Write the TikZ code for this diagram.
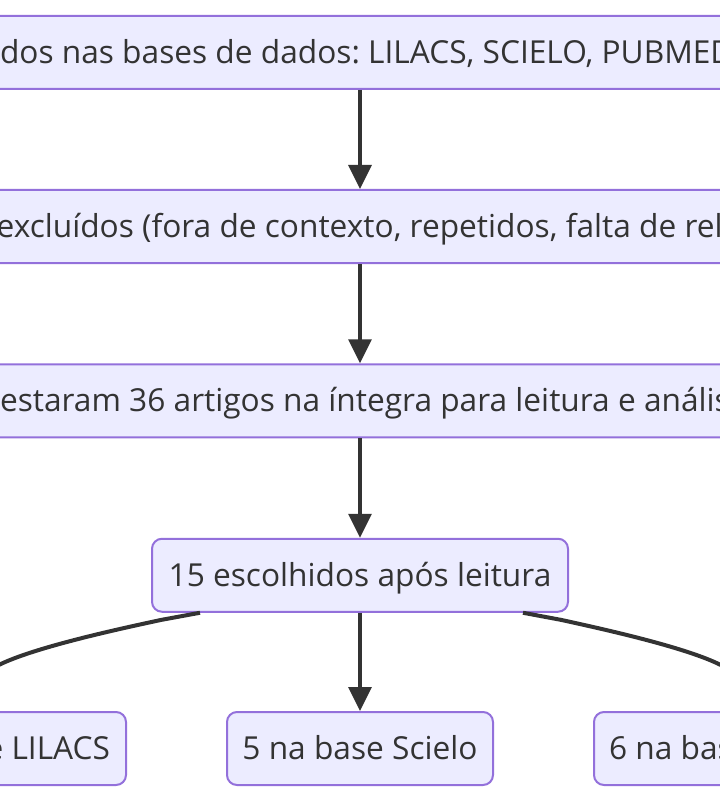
\documentclass[tikz,border=0pt]{standalone}
\usepackage{fontspec}
\setmainfont{Open Sans}
\frenchspacing
\usepackage{xcolor}
\usetikzlibrary{positioning, arrows.meta}
\definecolor{boxfill}{HTML}{ECECFF}
\definecolor{boxline}{HTML}{9370DB}
\definecolor{ink}{HTML}{333333}

\begin{document}
\begin{tikzpicture}[
    x=0.75pt, y=-0.75pt,
    stage/.style={rectangle, draw=boxline, fill=boxfill, line width=1.5pt, rounded corners=7.5pt, text=ink, font=\fontsize{23.75}{28}\selectfont, minimum height=54.75pt, inner ysep=0pt, text height=20pt, text depth=3.5pt},
    wide/.style={stage, inner xsep=45pt},
    base/.style={stage, inner xsep=12pt},
    arrow/.style={-{Triangle[length=18pt, width=17pt]}, draw=ink, line width=3pt}
]
\useasboundingbox (0,0) rectangle (720,802);
\clip (0,0) rectangle (720,802);

\node[wide] (busca) at (360,52.5) {\makebox[540pt][l]{dos nas bases de dados: LILACS, SCIELO, PUBMED}};
\node[wide] (triagem) at (360,226.5) {\makebox[540pt][l]{\hspace*{-2.5pt}excluídos (fora de contexto, repetidos, falta de rel}};
\node[wide] (leitura) at (360,400.75) {\makebox[540pt][l]{estaram 36 artigos na íntegra para leitura e anális}};
\node[stage, minimum width=312pt] (escolhidos) at (360,575.25) {15 escolhidos após leitura};
\node[stage, minimum width=199.5pt] (scielo) at (360,748.5) {5 na base Scielo};
\node[base] (lilacs) at (-33,748.5) {\makebox[214.5pt][r]{e LILACS}};
\node[base, inner xsep=11.25pt] (pubmed) at (752,748.5) {\makebox[214.5pt][l]{6 na bas}};

\draw[arrow] (busca) -- (triagem);
\draw[arrow] (triagem) -- (leitura);
\draw[arrow] (leitura) -- (escolhidos);
\draw[arrow] (escolhidos) -- (scielo);
\draw[arrow] ([xshift=-120pt]escolhidos.south) -- (161.2,619.9) .. controls (122.3,628.25) and (44.7,645) .. (5.8,661.75) .. controls (-33,678.5) and (-33,695.25) .. (lilacs.north);
\draw[arrow] ([xshift=122.25pt]escolhidos.south) -- (561.2,619.9) .. controls (599.3,628.25) and (675.7,645) .. (713.8,661.75) .. controls (752,678.5) and (752,695.25) .. (pubmed.north);

\end{tikzpicture}
\end{document}
